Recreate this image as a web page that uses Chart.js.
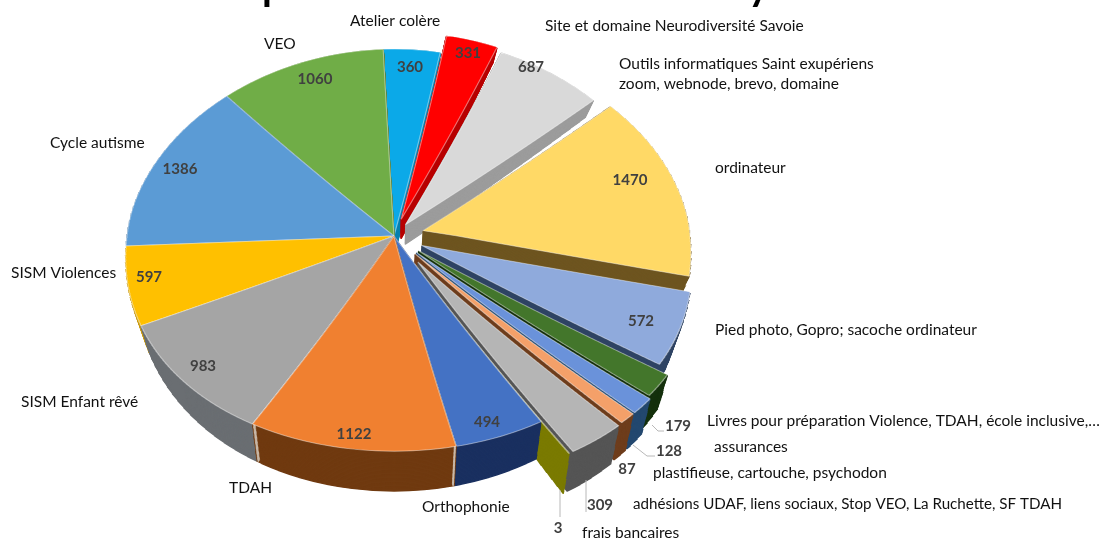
<!DOCTYPE html>
<html><head><meta charset="utf-8">
<style>html,body{margin:0;padding:0;background:#fff}canvas{display:block}</style>
<script src="https://cdn.jsdelivr.net/npm/chart.js@4"></script>
</head><body><canvas id="c" width="1100" height="538"></canvas>
<script>
const categories = ["Atelier colère","Site et domaine Neurodiversité Savoie","Outils informatiques Saint exupériens zoom, webnode, brevo, domaine","ordinateur","Pied photo, Gopro; sacoche ordinateur","Livres pour préparation Violence, TDAH, école inclusive,…","assurances","plastifieuse, cartouche, psychodon","adhésions UDAF, liens sociaux, Stop VEO, La Ruchette, SF TDAH","frais bancaires","Orthophonie","TDAH","SISM Enfant rêvé","SISM Violences","Cycle autisme","VEO"];
const values = [360,331,687,1470,572,179,128,87,309,3,494,1122,983,597,1386,1060];
const topColors = ["#0BA9E8","#FF0000","#D9D9D9","#FFD966","#8FAADC","#43762B","#6A92DA","#F4A069","#B5B5B5","#808000","#4472C4","#F08030","#A5A5A5","#FFC000","#5B9BD5","#70AD47"];
const wallColors = ["#0780B0","#B80000","#9C9C9C","#6E5520","#2F4464","#14300C","#23486F","#6E3D1C","#555555","#7A7A00","#1A3060","#703A10","#6A6E72","#C99A10","#3A6A95","#4F7A30"];
const explode = [0,25,20,30,30,30,30,30,40,40,0,0,0,0,0,0];
const grow    = [0,0,0,0,0,12,15,15,6,6,0,0,0,0,0,0];
const seamSlices = [11];

const valueSpots = [[410,67],[468,53],[531,67],[630,180],[641,321],[678,426],[669,451],[627,469],[600,505],[558,528],[487,422],[354,434],[203,366],[149,277],[180,169],[315,79]];
const captionSpots = [
 ["Atelier colère",350,21],["Site et domaine Neurodiversité Savoie",545,26],["Outils informatiques Saint exupériens",619,64],["zoom, webnode, brevo, domaine",619,84],
 ["ordinateur",715,168],["Pied photo, Gopro; sacoche ordinateur",715,330],["Livres pour préparation Violence, TDAH, école inclusive,…",707,421],["assurances",714,447],
 ["plastifieuse, cartouche, psychodon",653,473],["adhésions UDAF, liens sociaux, Stop VEO, La Ruchette, SF TDAH",633,504,429],["frais bancaires",582,533],["Orthophonie",422,507],
 ["TDAH",229,488],["SISM Enfant rêvé",21,402],["SISM Violences",11,273],["Cycle autisme",50,143],["VEO",264,44]];
const titleStubs = [["p",262],["y",748]];
const leaders = [[[652,425],[658,431],[664,431]],[[633,445],[647,456],[655,456]],[[586,480],[586,512]],[[560,490],[560,517]]];

const UP=0.70, DOWN=0.806, LAYERS=30, SHIFT=20, SHRINK=0.04, UP_B=0.715, DOWN_B=0.88;
const PERSP_UP=0.076/190, PERSP_DOWN=0.09/190, EDGE="#C8B8A8";

function yRange(arc, extra){
  const r = arc.outerRadius+extra, s = arc.startAngle, e = arc.endAngle;
  let lo = Math.min(0, r*Math.sin(s), r*Math.sin(e)), hi = Math.max(0, r*Math.sin(s), r*Math.sin(e));
  for(let n=-2;n<=2;n++){
    const up = -Math.PI/2+n*2*Math.PI, dn = Math.PI/2+n*2*Math.PI;
    if(up>s&&up<e) lo=-r;
    if(dn>s&&dn<e) hi=r;
  }
  return [lo,hi];
}

function paint(ctx, el, cx, cy, t, H, dx, dy, range, band){
  const shrink = 1-SHRINK*t, a = UP+(UP_B-UP)*t, b = DOWN+(DOWN_B-DOWN)*t, yc = cy+SHIFT*t;
  const top = Math.max(0, Math.floor(yc+(range[0]+dy)*(range[0]+dy<0?a:b))-2);
  const bot = Math.min(H, Math.ceil(yc+(range[1]+dy)*(range[1]+dy<0?a:b))+2);
  for(let y=top;y<bot;y+=band){
    const m = y+band/2, d = m-yc, above = d<0;
    const fx = shrink*(1+d*(above?PERSP_UP:PERSP_DOWN));
    ctx.save();
    ctx.beginPath(); ctx.rect(0,y,1100,band); ctx.clip();
    ctx.translate(cx,yc); ctx.scale(fx,above?a:b); ctx.translate(dx-cx,dy-cy);
    el.draw(ctx);
    ctx.restore();
  }
}

const pie3d = {
  id:'pie3d',
  beforeDatasetDraw(chart){
    const ctx = chart.ctx, arcs = chart.getDatasetMeta(0).data, H = chart.height;
    const mid = k=>(arcs[k].startAngle+arcs[k].endAngle)/2;
    const order = arcs.map((a,i)=>i).sort((i,j)=>Math.sin(mid(i))-Math.sin(mid(j)));
    order.forEach(i=>{
      const arc = arcs[i], cx = arc.x, cy = arc.y;
      const dx = Math.cos(mid(i))*explode[i], dy = Math.sin(mid(i))*explode[i];
      const range = yRange(arc, grow[i]);
      const top = Object.create(arc); top.outerRadius = arc.outerRadius+grow[i];
      const o = Object.create(arc.options);
      o.backgroundColor = wallColors[i]; o.borderColor = wallColors[i]; o.borderWidth = 1.5;
      const wall = Object.create(top); wall.options = o;
      for(let k=LAYERS;k>0;k--) paint(ctx,wall,cx,cy,k/LAYERS,H,dx,dy,range,7);
      if(seamSlices.includes(i)){
        const eo = Object.create(arc.options);
        eo.backgroundColor = EDGE; eo.borderColor = EDGE; eo.borderWidth = 0;
        [arc.startAngle, arc.endAngle-0.006].forEach(s=>{
          const edge = Object.create(top);
          edge.options = eo; edge.startAngle = s; edge.endAngle = s+0.006; edge.circumference = 0.006;
          edge.innerRadius = arc.outerRadius-3;
          for(let k=LAYERS;k>0;k--) paint(ctx,edge,cx,cy,k/LAYERS,H,dx,dy,[Math.sin(s)*arc.outerRadius-4,Math.sin(s)*arc.outerRadius+4],2);
        });
      }
      paint(ctx,top,cx,cy,0,H,dx,dy,range,3);
    });
    return false;
  },
  afterDatasetsDraw(chart){
    const ctx = chart.ctx;
    ctx.save();
    ctx.fillStyle="#000"; ctx.font='bold 40px Lato'; ctx.textBaseline="alphabetic"; ctx.textAlign="left";
    titleStubs.forEach(s=>ctx.fillText(s[0],s[1],0));
    ctx.strokeStyle="#B8B8B8"; ctx.lineWidth=1;
    leaders.forEach(l=>{ctx.beginPath();l.forEach((p,i)=>i?ctx.lineTo(p[0],p[1]):ctx.moveTo(p[0],p[1]));ctx.stroke();});
    ctx.textBaseline="middle"; ctx.fillStyle="#111";
    ctx.font='15.5px Lato';
    captionSpots.forEach(c=>c[3]?ctx.fillText(c[0],c[1],c[2],c[3]):ctx.fillText(c[0],c[1],c[2]));
    ctx.textAlign="center"; ctx.fillStyle="#404040"; ctx.font='bold 15px Lato';
    values.forEach((v,i)=>ctx.fillText(String(v),valueSpots[i][0],valueSpots[i][1]));
    ctx.restore();
  }
};

new Chart(document.getElementById('c'),{
  type:'pie',
  data:{labels:categories,datasets:[{data:values,backgroundColor:topColors,borderColor:'rgba(255,255,255,0.45)',borderWidth:1.2}]},
  options:{
    responsive:false,animation:false,rotation:-2.5,radius:267,
    layout:{padding:{left:0,top:0,right:312,bottom:66}},
    plugins:{legend:{display:false},tooltip:{enabled:false}},
    events:[]
  },
  plugins:[pie3d]
});
</script></body></html>
